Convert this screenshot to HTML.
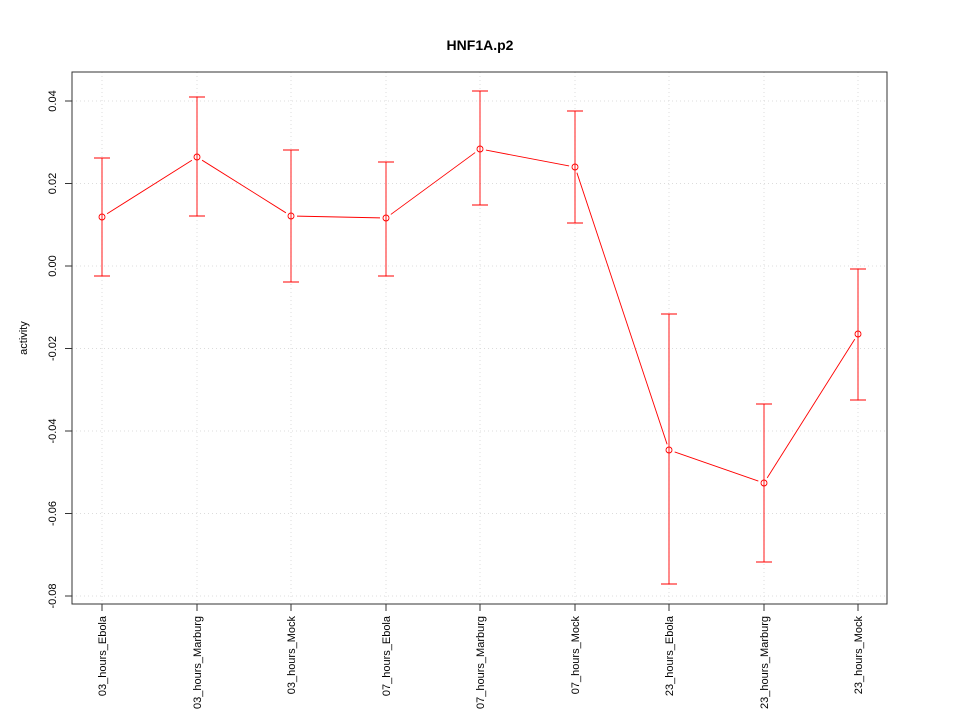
<!DOCTYPE html>
<html><head><style>body{margin:0;background:#fff}</style></head><body>
<svg id="s" width="960" height="720" xmlns="http://www.w3.org/2000/svg" font-family="Liberation Sans, sans-serif">
<rect width="960" height="720" fill="#fff"/>
<text x="480" y="50" text-anchor="middle" font-weight="bold" font-size="14">HNF1A.p2</text>
<g stroke="#dcdcdc" stroke-dasharray="1,3" stroke-width="1">
<line x1="72" x2="887" y1="101" y2="101"/><line x1="72" x2="887" y1="183.5" y2="183.5"/><line x1="72" x2="887" y1="266" y2="266"/><line x1="72" x2="887" y1="348.5" y2="348.5"/><line x1="72" x2="887" y1="431" y2="431"/><line x1="72" x2="887" y1="513.5" y2="513.5"/><line x1="72" x2="887" y1="596" y2="596"/>
<line x1="102" x2="102" y1="72" y2="604"/><line x1="197" x2="197" y1="72" y2="604"/><line x1="291" x2="291" y1="72" y2="604"/><line x1="386" x2="386" y1="72" y2="604"/><line x1="480" x2="480" y1="72" y2="604"/><line x1="575" x2="575" y1="72" y2="604"/><line x1="669" x2="669" y1="72" y2="604"/><line x1="764" x2="764" y1="72" y2="604"/><line x1="858" x2="858" y1="72" y2="604"/>
</g>
<rect x="72" y="72" width="815" height="532" fill="none" stroke="#333"/>
<g stroke="#333">
<line x1="65" x2="72" y1="101" y2="101"/><line x1="65" x2="72" y1="183.5" y2="183.5"/><line x1="65" x2="72" y1="266" y2="266"/><line x1="65" x2="72" y1="348.5" y2="348.5"/><line x1="65" x2="72" y1="431" y2="431"/><line x1="65" x2="72" y1="513.5" y2="513.5"/><line x1="65" x2="72" y1="596" y2="596"/>
<line y1="604" y2="611" x1="102" x2="102"/><line y1="604" y2="611" x1="197" x2="197"/><line y1="604" y2="611" x1="291" x2="291"/><line y1="604" y2="611" x1="386" x2="386"/><line y1="604" y2="611" x1="480" x2="480"/><line y1="604" y2="611" x1="575" x2="575"/><line y1="604" y2="611" x1="669" x2="669"/><line y1="604" y2="611" x1="764" x2="764"/><line y1="604" y2="611" x1="858" x2="858"/>
</g>
<g font-size="11" text-anchor="middle">
<text transform="translate(56,101) rotate(-90)">0.04</text>
<text transform="translate(56,183.5) rotate(-90)">0.02</text>
<text transform="translate(56,266) rotate(-90)">0.00</text>
<text transform="translate(56,348.5) rotate(-90)">-0.02</text>
<text transform="translate(56,431) rotate(-90)">-0.04</text>
<text transform="translate(56,513.5) rotate(-90)">-0.06</text>
<text transform="translate(56,596) rotate(-90)">-0.08</text>
<text transform="translate(27,338) rotate(-90)">activity</text>
</g>
<g font-size="11" text-anchor="end">
<text transform="translate(106,616) rotate(-90)">03_hours_Ebola</text>
<text transform="translate(201,616) rotate(-90)">03_hours_Marburg</text>
<text transform="translate(295,616) rotate(-90)">03_hours_Mock</text>
<text transform="translate(390,616) rotate(-90)">07_hours_Ebola</text>
<text transform="translate(484,616) rotate(-90)">07_hours_Marburg</text>
<text transform="translate(579,616) rotate(-90)">07_hours_Mock</text>
<text transform="translate(673,616) rotate(-90)">23_hours_Ebola</text>
<text transform="translate(768,616) rotate(-90)">23_hours_Marburg</text>
<text transform="translate(862,616) rotate(-90)">23_hours_Mock</text>
</g>
<g stroke="#f00" fill="none" stroke-width="0.9">
<path d="M102,158V276M94,158H110M94,276H110
M197,97V216M189,97H205M189,216H205
M291,150V282M283,150H299M283,282H299
M386,162V276M378,162H394M378,276H394
M480,91V205M472,91H488M472,205H488
M575,111V223M567,111H583M567,223H583
M669,314V584M661,314H677M661,584H677
M764,404V562M756,404H772M756,562H772
M858,269V400M850,269H866M850,400H866"/>
<g id="ln"></g>
<g fill="none">
<circle cx="102" cy="217" r="3"/><circle cx="197" cy="157" r="3"/><circle cx="291" cy="216" r="3"/><circle cx="386" cy="218" r="3"/><circle cx="480" cy="149" r="3"/><circle cx="575" cy="167" r="3"/><circle cx="669" cy="450" r="3"/><circle cx="764" cy="483" r="3"/><circle cx="858" cy="334" r="3"/>
</g>
</g>
</svg>
<script>
var p=[[102,217],[197,157],[291,216],[386,218],[480,149],[575,167],[669,450],[764,483],[858,334]],g=document.getElementById('ln'),h='';
for(var i=0;i<p.length-1;i++){var a=p[i],b=p[i+1],dx=b[0]-a[0],dy=b[1]-a[1],L=Math.sqrt(dx*dx+dy*dy),ux=dx/L*6,uy=dy/L*6;
h+='<line x1="'+(a[0]+ux)+'" y1="'+(a[1]+uy)+'" x2="'+(b[0]-ux)+'" y2="'+(b[1]-uy)+'"/>';}
g.innerHTML=h;
</script>
</body></html>
